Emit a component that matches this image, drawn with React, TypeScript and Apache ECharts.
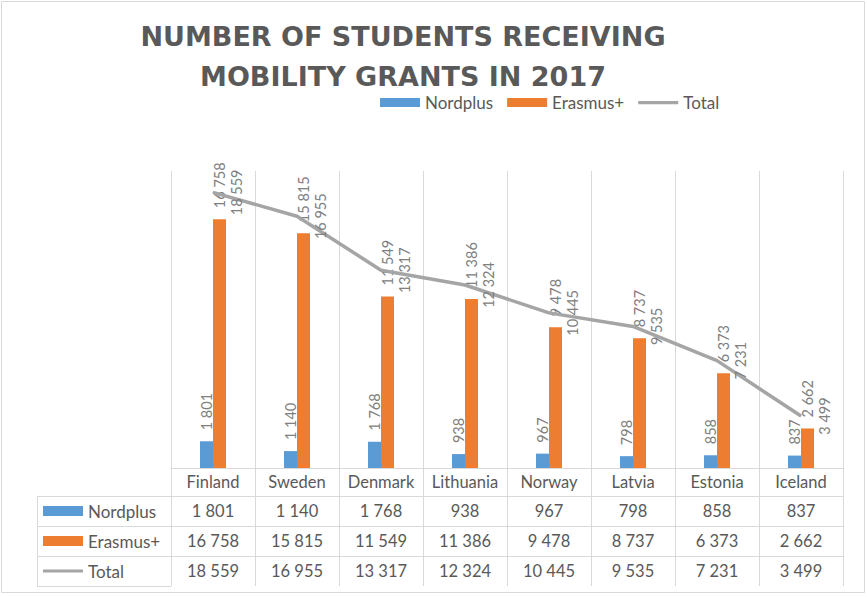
import React, { useEffect, useRef } from "react";
import * as echarts from "echarts";

const categories = ["Finland", "Sweden", "Denmark", "Lithuania", "Norway", "Latvia", "Estonia", "Iceland"];
const nordplus = [1801, 1140, 1768, 938, 967, 798, 858, 837];
const erasmus = [16758, 15815, 11549, 11386, 9478, 8737, 6373, 2662];
const total = [18559, 16955, 13317, 12324, 10445, 9535, 7231, 3499];
const seriesNames = ["Nordplus", "Erasmus+", "Total"];
const titleLines = ["NUMBER OF STUDENTS RECEIVING", "MOBILITY GRANTS IN 2017"];

const COLORS = ["#5b9bd5", "#ed7d31", "#a5a5a5"];
const FONT = "Lato";
const TEXT = "#595959";
const LABEL = "#808080";
const BORDER = "#d9d9d9";

const W = 867;
const H = 597;
const GRID = { left: 171, right: 24, top: 171, bottom: 129 };
const ROW_OFFSETS = [0, 28, 58, 88, 118];
const TABLE_LEFT = 37;

const fmt = (n: number) => String(n).replace(/\B(?=(\d{3})+(?!\d))/g, " ");

export default function App() {
  const ref = useRef<HTMLDivElement>(null);
  useEffect(() => {
    if (!ref.current) return;
    const chart = echarts.init(ref.current, null, { renderer: "svg" });
    const axisY = H - GRID.bottom;
    const rowsData = [nordplus, erasmus, total];

    const valueAxes = rowsData.map((arr, i) => ({
      type: "category",
      gridIndex: 0,
      position: "bottom",
      offset: ROW_OFFSETS[i + 1],
      data: categories,
      axisLine: { show: true, lineStyle: { color: BORDER, width: 1 } },
      axisTick: { show: false },
      splitLine: { show: false },
      axisLabel: {
        interval: 0,
        margin: 6,
        fontFamily: FONT,
        fontSize: 16.5,
        color: TEXT,
        formatter: (_v: string, idx: number) => fmt(arr[idx]),
      },
    }));

    const graphics: any[] = [];
    graphics.push({
      type: "rect",
      shape: { x: 1.5, y: 1.5, width: W - 4, height: H - 6 },
      style: { fill: "none", stroke: BORDER, lineWidth: 1 },
      silent: true,
    });
    titleLines.forEach((line, i) => {
      graphics.push({
        type: "text",
        x: 403,
        y: 36 + i * 40.5,
        style: {
          text: line,
          font: `bold 27px "DejaVu Sans"`,
          fill: TEXT,
          align: "center",
          verticalAlign: "middle",
          lineHeight: 22,
        },
        silent: true,
      });
    });
    // header column borders
    for (let i = 1; i < ROW_OFFSETS.length; i++) {
      graphics.push({
        type: "line",
        shape: { x1: TABLE_LEFT, y1: axisY + ROW_OFFSETS[i] + 0.5, x2: GRID.left, y2: axisY + ROW_OFFSETS[i] + 0.5 },
        style: { stroke: BORDER, lineWidth: 1 },
        silent: true,
      });
    }
    graphics.push({
      type: "line",
      shape: { x1: TABLE_LEFT + 0.5, y1: axisY + ROW_OFFSETS[1], x2: TABLE_LEFT + 0.5, y2: axisY + ROW_OFFSETS[4] + 1 },
      style: { stroke: BORDER, lineWidth: 1 },
      silent: true,
    });
    // header column keys and names
    seriesNames.forEach((name, i) => {
      const cy = axisY + (ROW_OFFSETS[i + 1] + ROW_OFFSETS[i + 2]) / 2;
      if (i < 2) {
        graphics.push({
          type: "rect",
          shape: { x: 43, y: cy - 5, width: 40, height: 10 },
          style: { fill: COLORS[i] },
          silent: true,
        });
      } else {
        graphics.push({
          type: "line",
          shape: { x1: 43, y1: cy, x2: 83, y2: cy },
          style: { stroke: COLORS[i], lineWidth: 3 },
          silent: true,
        });
      }
      graphics.push({
        type: "text",
        x: 88,
        y: cy,
        style: { text: name, font: `17px ${FONT}`, fill: TEXT, align: "left", verticalAlign: "middle" },
        silent: true,
      });
    });

    const barLabel = {
      show: true,
      position: "top",
      distance: 11,
      rotate: 90,
      align: "left",
      verticalAlign: "middle",
      fontFamily: FONT,
      fontSize: 14.5,
      color: LABEL,
      formatter: (p: any) => fmt(p.value),
    };

    chart.setOption({
      animation: false,
      backgroundColor: "#ffffff",
      color: COLORS,
      textStyle: { fontFamily: FONT },
      grid: { ...GRID, containLabel: false, outerBoundsMode: "none" },
      legend: {
        left: 380,
        top: 94,
        padding: 0,
        itemGap: 14,
        itemWidth: 40,
        itemHeight: 9,
        textStyle: { fontFamily: FONT, fontSize: 17, color: TEXT, lineHeight: 17 },
        data: [
          { name: seriesNames[0], icon: "rect" },
          { name: seriesNames[1], icon: "rect" },
          { name: seriesNames[2], icon: "path://M0 0L0.01 0ZM0 3H40V6.2H0ZM0 9L0.01 9Z" },
        ],
      },
      xAxis: [
        {
          type: "category",
          gridIndex: 0,
          position: "bottom",
          data: categories,
          axisLine: { show: true, lineStyle: { color: BORDER, width: 1 } },
          axisTick: { show: true, length: ROW_OFFSETS[4], interval: 0, lineStyle: { color: BORDER, width: 1 } },
          splitLine: { show: true, interval: 0, lineStyle: { color: BORDER, width: 1 } },
          axisLabel: { interval: 0, margin: 5, fontFamily: FONT, fontSize: 16.5, color: TEXT },
        },
        ...valueAxes,
      ],
      yAxis: {
        type: "value",
        min: 0,
        max: 20000,
        show: false,
        splitLine: { show: false },
      },
      series: [
        {
          name: seriesNames[0],
          type: "bar",
          data: nordplus,
          barWidth: 13,
          barGap: "0%",
          itemStyle: { color: COLORS[0] },
          label: barLabel,
        },
        {
          name: seriesNames[1],
          type: "bar",
          data: erasmus,
          barWidth: 13,
          barGap: "0%",
          itemStyle: { color: COLORS[1] },
          label: barLabel,
        },
        {
          name: seriesNames[2],
          type: "line",
          data: total,
          symbol: "circle",
          symbolSize: 1,
          itemStyle: { color: COLORS[2] },
          lineStyle: { color: COLORS[2], width: 3.5 },
          z: 3,
          label: {
            show: true,
            position: "right",
            distance: 15,
            rotate: 90,
            align: "center",
            verticalAlign: "top",
            fontFamily: FONT,
            fontSize: 14.5,
            color: LABEL,
            formatter: (p: any) => fmt(p.value),
          },
        },
      ],
      graphic: graphics,
    });
    return () => chart.dispose();
  }, []);
  return <div ref={ref} style={{ position: "fixed", left: 0, top: 0, width: W, height: H }} />;
}
